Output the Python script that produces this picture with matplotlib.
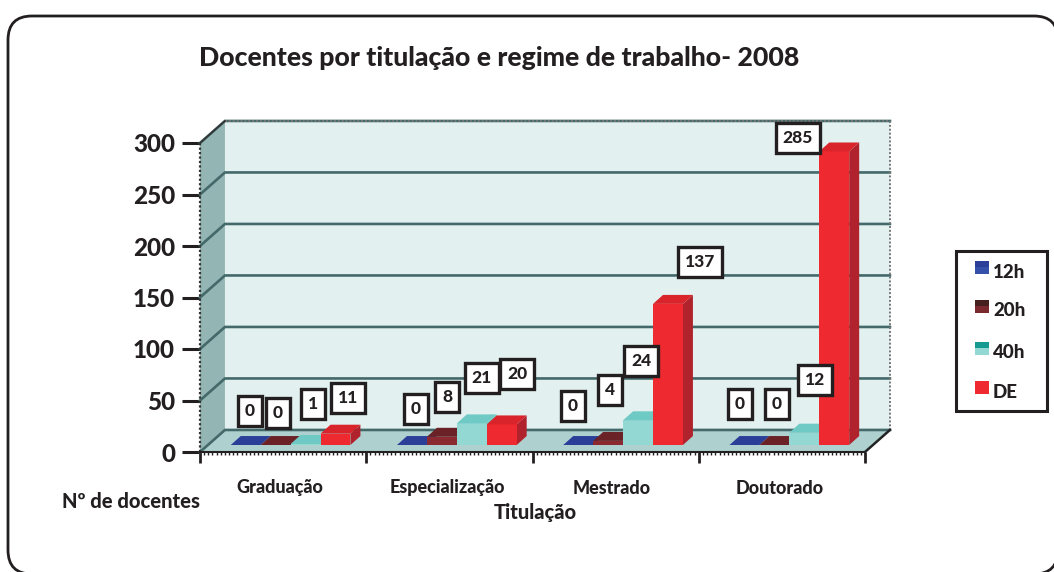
import numpy as np
import matplotlib
matplotlib.use("Agg")
import matplotlib.pyplot as plt
from matplotlib.patches import FancyBboxPatch, Polygon, Rectangle

categories = ["Graduação", "Especialização", "Mestrado", "Doutorado"]
series_names = ["12h", "20h", "40h", "DE"]
v_12h = [0, 0, 0, 0]
v_20h = [0, 8, 4, 0]
v_40h = [1, 21, 24, 12]
v_de = [11, 20, 137, 285]
yticks = [0, 50, 100, 150, 200, 250, 300]

# cores: frente, topo, lateral
front_colors = ["#3048a4", "#8a2a30", "#94d8d4", "#ee2a30"]
top_colors = ["#2c3f98", "#6a2226", "#6fc9c4", "#d8242a"]
side_colors = ["#26377f", "#5e1e22", "#7cbcb8", "#b0232c"]

# caixas dos valores em pixels da imagem, mesma ordem das séries
label_pos = [
    [(250, 411), (416, 409), (573, 406), (740, 404)],
    [(278, 413), (447, 397), (610, 390), (777, 404)],
    [(313, 404), (482, 378), (641, 361), (815, 380)],
    [(348, 398), (517, 374), (700, 262), (798, 138)],
]

W, H = 1054, 572
BAR_W = 0.18
GROUP_OFF = 0.185
BASE = 6.8
DEPTH_X = 0.15
DEPTH_Y = 21.4
BAR_DX = 0.06
BAR_DY = 8.7
BOLD = ["Lato", "DejaVu Sans"]
HEAVY = "black"
INK = "#231f20"

fig = plt.figure(figsize=(W / 100, H / 100), dpi=100)

# camada em pixels para moldura, textos e legenda
bg = fig.add_axes([0, 0, 1, 1])
bg.set_xlim(0, W)
bg.set_ylim(H, 0)
bg.axis("off")
bg.add_patch(FancyBboxPatch((32, 40), 1002, 510, boxstyle="round,pad=24,rounding_size=24",
                            fc="white", ec=INK, lw=2, clip_on=False))

ax = fig.add_axes([200 / W, 1 - 452 / H, 665 / W, 309 / H])
ax.set_zorder(2)
ax.patch.set_visible(False)
ax.set_xlim(0, 4)
ax.set_ylim(0, 300)
for s in ["top", "right", "bottom", "left"]:
    ax.spines[s].set_visible(False)

# paredes e chão
ax.add_patch(Polygon([(DEPTH_X, DEPTH_Y), (4 + DEPTH_X, DEPTH_Y), (4 + DEPTH_X, 300 + DEPTH_Y), (DEPTH_X, 300 + DEPTH_Y)],
                     fc="#e2f1f0", ec="none", clip_on=False, zorder=1))
ax.add_patch(Polygon([(0, 0), (DEPTH_X, DEPTH_Y), (DEPTH_X, 300 + DEPTH_Y), (0, 300)],
                     fc="#93b5b3", ec="none", clip_on=False, zorder=1))
ax.add_patch(Polygon([(0, 0), (4, 0), (4 + DEPTH_X, DEPTH_Y), (DEPTH_X, DEPTH_Y)],
                     fc="#aed0cf", ec="none", clip_on=False, zorder=1))
for t in yticks:
    ax.plot([0, DEPTH_X, 4 + DEPTH_X], [t, t + DEPTH_Y, t + DEPTH_Y], color="#44696a", lw=1.9,
            clip_on=False, zorder=2, solid_joinstyle="miter")
ax.plot([DEPTH_X, 4 + DEPTH_X, 4 + DEPTH_X], [300 + DEPTH_Y, 300 + DEPTH_Y, DEPTH_Y],
        color="#777777", lw=1.4, ls=(0, (1, 1)), clip_on=False, zorder=2)
ax.plot([0, 0], [0, 300], color="#333333", lw=1.6, ls=(0, (1, 1)), clip_on=False, zorder=2)
ax.plot([0, DEPTH_X], [300, 300 + DEPTH_Y], color="#333333", lw=1.2, clip_on=False, zorder=2)
ax.plot([4, 4 + DEPTH_X], [0, DEPTH_Y], color="#222222", lw=1.8, clip_on=False, zorder=2)

# barras 3D
all_values = [v_12h, v_20h, v_40h, v_de]
x_pos = np.arange(len(categories))
for j, values in enumerate(all_values):
    left = x_pos + GROUP_OFF + j * BAR_W
    ax.bar(left, values, width=BAR_W, bottom=BASE, align="edge", color=front_colors[j], zorder=4 + j, clip_on=False)
    for xl, v in zip(left, values):
        xr = xl + BAR_W
        top = BASE + v
        ax.add_patch(Polygon([(xl, top), (xr, top), (xr + BAR_DX, top + BAR_DY), (xl + BAR_DX, top + BAR_DY)],
                             fc=top_colors[j], ec="none", zorder=4 + j, clip_on=False))
        ax.add_patch(Polygon([(xr, BASE), (xr + BAR_DX, BASE + BAR_DY), (xr + BAR_DX, top + BAR_DY), (xr, top)],
                             fc=side_colors[j], ec="none", zorder=3 + j, clip_on=False))

# eixos
ax.set_yticks(yticks)
ax.set_xticks(range(5))
ax.set_xticks(np.arange(0, 4.001, 1 / 40), minor=True)
ax.set_xticklabels([])
ax.tick_params(axis="y", length=13, width=2.2, color=INK, pad=5)
ax.tick_params(axis="x", which="major", length=8, width=2, color=INK)
ax.tick_params(axis="x", which="minor", length=2.5, width=1, color=INK)
ax.spines["bottom"].set_visible(True)
ax.spines["bottom"].set_color(INK)
ax.spines["bottom"].set_linewidth(1.5)
for lab in ax.get_yticklabels():
    lab.set_family(BOLD)
    lab.set_fontweight(HEAVY)
    lab.set_fontsize(17.5)
    lab.set_color(INK)

# caixas dos valores
top = fig.add_axes([0, 0, 1, 1])
top.set_xlim(0, W)
top.set_ylim(H, 0)
top.axis("off")
top.set_zorder(3)
for values, positions in zip(all_values, label_pos):
    for v, (px, py) in zip(values, positions):
        top.text(px, py, str(v), ha="center", va="center", family=BOLD, fontweight=HEAVY, fontsize=12.5, color=INK,
                 bbox=dict(boxstyle="square,pad=0.42", fc="white", ec=INK, lw=2.4))

# textos
top.text(499, 58, "Docentes por titulação e regime de trabalho- 2008", ha="center", va="center",
         family=BOLD, fontweight=HEAVY, fontsize=19.2, color=INK)
for name, cx in zip(categories, [280, 447, 612, 780]):
    top.text(cx, 488, name, ha="center", va="center", family=BOLD, fontweight=HEAVY, fontsize=13, color=INK)
top.text(131, 501, "Nº de docentes", ha="center", va="center", family=BOLD, fontweight=HEAVY, fontsize=14.5, color=INK)
top.text(535, 512, "Titulação", ha="center", va="center", family=BOLD, fontweight=HEAVY, fontsize=14.5, color=INK)

# legenda
top.add_patch(Rectangle((956, 251), 91, 160, fc="white", ec=INK, lw=2.2))
swatch_top = ["#2c3f98", "#45201f", "#159a92", "#ee2a30"]
swatch_bottom = ["#3450a8", "#7a2a2e", "#94d8d4", "#ee2a30"]
for name, c1, c2, sy in zip(series_names, swatch_top, swatch_bottom, [261, 300, 342, 381]):
    top.add_patch(Rectangle((975, sy), 14, 7, fc=c1, ec="none"))
    top.add_patch(Rectangle((975, sy + 6), 14, 7, fc=c2, ec="none"))
    top.text(993, sy + 11, name, ha="left", va="center", family=BOLD, fontweight=HEAVY, fontsize=13.5, color=INK)

fig.savefig("out.png", dpi=100)
